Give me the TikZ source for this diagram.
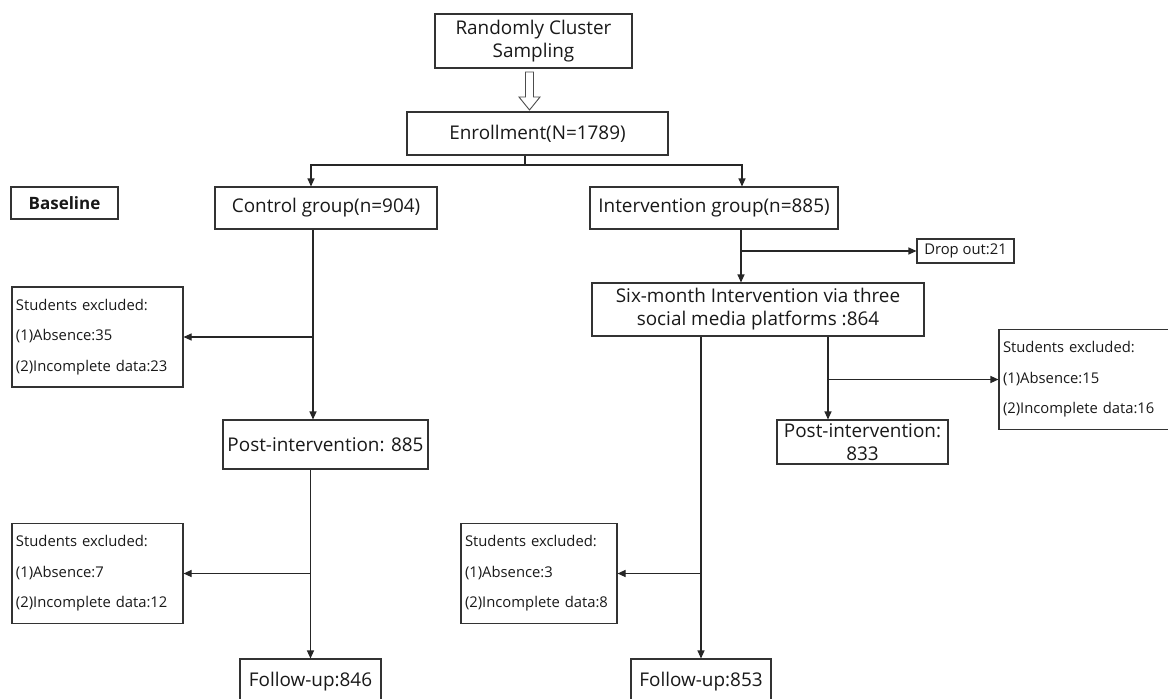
\documentclass[tikz,border=0pt]{standalone}
\usepackage{fontspec}
\setmainfont{Open Sans}
\usetikzlibrary{arrows.meta}

\begin{document}
\begin{tikzpicture}[x=1pt, y=-1pt,
            box/.style={draw=black!80, line width=1.1pt, text=black!90, fill=white, inner sep=2pt, align=center, font=\fontsize{18.9}{23}\selectfont},
            exbox/.style={draw=black!80, line width=1.1pt, text=black!90, fill=white, inner xsep=4pt, align=left, minimum height=100pt, font=\fontsize{14.8}{30.5}\selectfont},
            arr/.style={draw=black!85, line width=1.1pt, -{Triangle[length=8pt,width=7pt]}},
            ln/.style={draw=black!85, line width=1.1pt}]
            \useasboundingbox (0,0) rectangle (1168,699);
            \clip (0,0) rectangle (1168,699);
            \fill[white] (0,0) rectangle (1168,699);
            \node[box, minimum width=197pt, minimum height=54pt] (samp) at (533.5,41) {Randomly Cluster\\Sampling};
            \node[box, minimum width=261pt, minimum height=43pt] (enrol) at (537.5,133.5) {Enrollment(N=1789)};
            \node[box, minimum width=107pt, minimum height=32pt, font=\fontsize{17}{20}\selectfont\bfseries] (base) at (64.5,203) {Baseline};
            \node[box, minimum width=222pt, minimum height=42pt] (ctrl) at (326,208) {Control group(n=904)};
            \node[box, minimum width=248pt, minimum height=42pt] (intv) at (714,208) {Intervention group(n=885)};
            \node[box, minimum width=97pt, minimum height=24pt, font=\fontsize{14.8}{18}\selectfont] (drop) at (965.5,251) {Drop out:21};
            \node[box, minimum width=332pt, minimum height=53pt] (six) at (758,309.5) {Six-month Intervention via three\\social media platforms :864};
            \node[exbox, text width=163pt] (exc1) at (97.5,337) {Students excluded:\\(1)Absence:35\\(2)Incomplete data:23};
            \node[box, minimum width=205pt, minimum height=49pt] (post1) at (325.5,444.5) {Post-intervention: 885};
            \node[exbox, text width=171pt] (exc3) at (1088.5,379.5) {Students excluded:\\(1)Absence:15\\(2)Incomplete data:16};
            \node[box, minimum width=171pt, minimum height=44pt] (post2) at (862.5,442) {Post-intervention:\\833};
            \node[exbox, text width=163pt] (exc2) at (97.5,573.5) {Students excluded:\\(1)Absence:7\\(2)Incomplete data:12};
            \node[exbox, text width=148pt] (exc4) at (539,573.5) {Students excluded:\\(1)Absence:3\\(2)Incomplete data:8};
            \node[box, minimum width=141pt, minimum height=46pt] (fu1) at (310.5,682) {Follow-up:846};
            \node[box, minimum width=140pt, minimum height=46pt] (fu2) at (701,682) {Follow-up:853};

            \draw[draw=black!70, line width=0.9pt, fill=white] (525.5,72) -- (533.5,72) -- (533.5,97) -- (540,97) -- (529.5,110) -- (519,97) -- (525.5,97) -- cycle;
            \coordinate (split) at (525,165);
            \draw[ln] (split |- enrol.south) -- (split);
            \draw[arr] (split) -| ([xshift=-15pt]ctrl.north);
            \draw[arr] (split) -| ([xshift=28pt]intv.north);
            \coordinate (c1) at ([xshift=-13pt]ctrl.south);
            \draw[arr] (c1) -- (c1 |- post1.north);
            \draw[arr] (c1 |- exc1.east) -- (exc1.east);
            \draw[arr] (post1.south -| fu1.north) -- (fu1.north);
            \draw[arr] (fu1.north |- exc2.east) -- (exc2.east);
            \coordinate (i1) at ([xshift=27pt]intv.south);
            \draw[arr] (i1) -- (i1 |- six.north);
            \draw[arr] (i1 |- drop.west) -- (drop.west);
            \coordinate (s1) at (fu2.north |- six.south);
            \coordinate (s2) at ([xshift=70pt]six.south);
            \draw[arr] (s2) -- (s2 |- post2.north);
            \draw[arr] (s2 |- exc3.west) -- (exc3.west);
            \draw[arr] (s1) -- (fu2.north);
            \draw[arr] (s1 |- exc4.east) -- (exc4.east);
\end{tikzpicture}
\end{document}
